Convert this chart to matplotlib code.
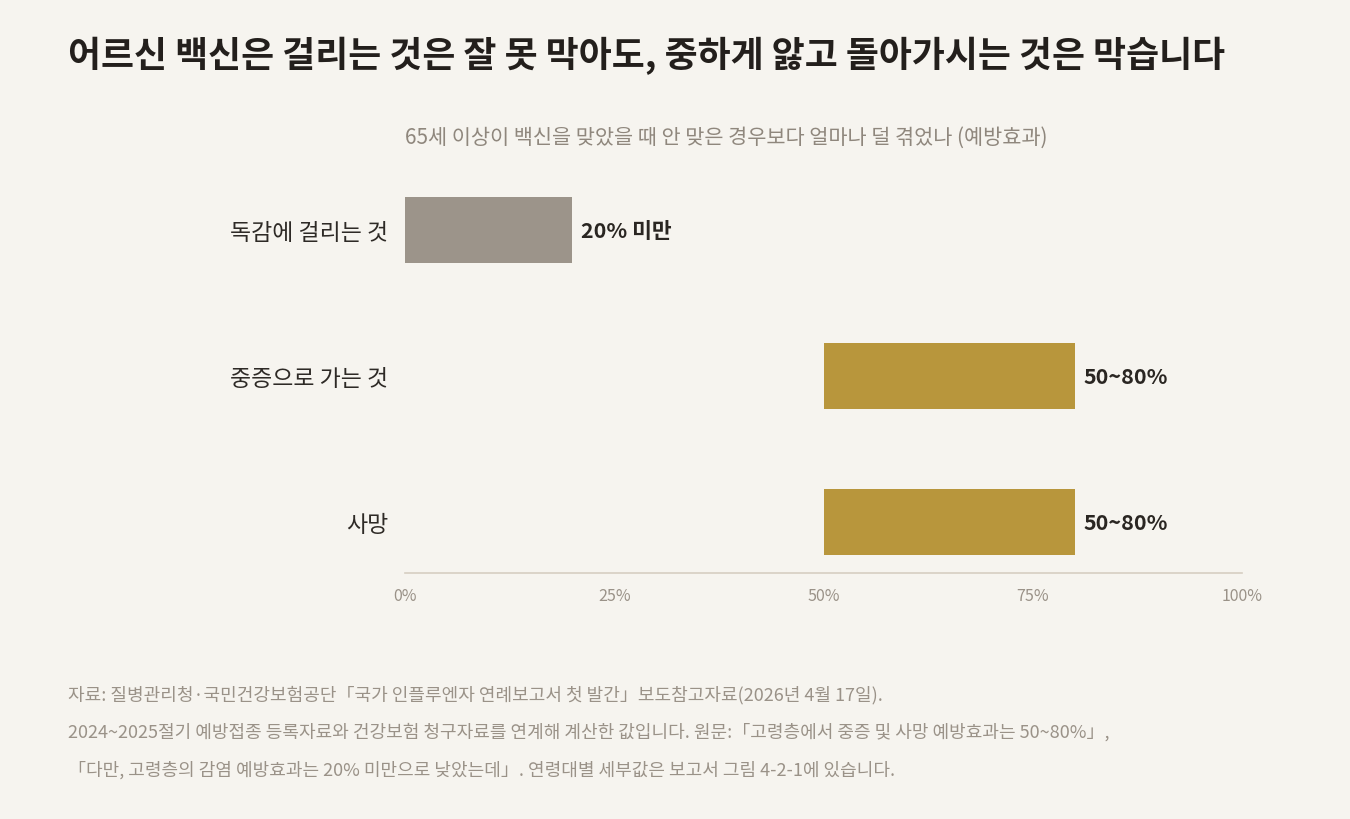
import matplotlib
matplotlib.use("Agg")
import matplotlib.pyplot as plt
import numpy as np

plt.rcParams['font.family'] = ['Noto Sans CJK KR', 'DejaVu Sans']

categories = ["독감에 걸리는 것", "중증으로 가는 것", "사망"]
low = [0, 50, 50]
high = [20, 80, 80]
value_labels = ["20% 미만", "50~80%", "50~80%"]
bar_colors = ["#9c948a", "#b8963c", "#b8963c"]
xticks = [0, 25, 50, 75, 100]
xtick_labels = ["0%", "25%", "50%", "75%", "100%"]

title = "어르신 백신은 걸리는 것은 잘 못 막아도, 중하게 앓고 돌아가시는 것은 막습니다"
subtitle = "65세 이상이 백신을 맞았을 때 안 맞은 경우보다 얼마나 덜 겪었나 (예방효과)"
notes = [
    "자료: 질병관리청·국민건강보험공단「국가 인플루엔자 연례보고서 첫 발간」보도참고자료(2026년 4월 17일).",
    "2024~2025절기 예방접종 등록자료와 건강보험 청구자료를 연계해 계산한 값입니다. 원문:「고령층에서 중증 및 사망 예방효과는 50~80%」,",
    "「다만, 고령층의 감염 예방효과는 20% 미만으로 낮았는데」. 연령대별 세부값은 보고서 그림 4-2-1에 있습니다.",
]

BG = "#f6f4ef"
fig = plt.figure(figsize=(13.5, 8.2), dpi=100, facecolor=BG)
ax = fig.add_axes([405/1350, 1-574/820, (1242-405)/1350, (574-158)/820])
ax.set_facecolor(BG)

y = np.arange(len(categories))
widths = np.array(high) - np.array(low)
ax.barh(y, widths, left=low, height=0.452, color=bar_colors)

for yi, h, lab in zip(y, high, value_labels):
    ax.annotate(lab, xy=(h, yi), xytext=(6.5, 0), textcoords="offset points",
                va="center", ha="left", fontsize=15.5, fontweight="bold", color="#2a2622")

ax.set_xlim(0, 100)
ax.set_ylim(2.349, -0.5)
ax.set_yticks(y)
ax.set_yticklabels(categories, fontsize=16.5, color="#2e2a26")
ax.set_xticks(xticks)
ax.set_xticklabels(xtick_labels, fontsize=11.5, color="#9a9288")
ax.tick_params(axis="both", length=0)
ax.tick_params(axis="y", pad=12)
ax.tick_params(axis="x", pad=10)
for s in ["top", "right", "left"]:
    ax.spines[s].set_visible(False)
ax.spines["bottom"].set_color("#d6cec2")
ax.spines["bottom"].set_linewidth(1.2)

fig.text(68/1350, 1-56/820, title, fontsize=25.8, fontweight="bold", color="#231f1c",
         ha="left", va="center")
fig.text(405/1350, 1-138/820, subtitle, fontsize=15, color="#8f877d", ha="left", va="center")

for i, n in enumerate(notes):
    fig.text(68/1350, 1-(695+37.5*i)/820, n, fontsize=13, color="#9a9288",
             ha="left", va="center")

fig.savefig("out.png", dpi=100, facecolor=BG)
